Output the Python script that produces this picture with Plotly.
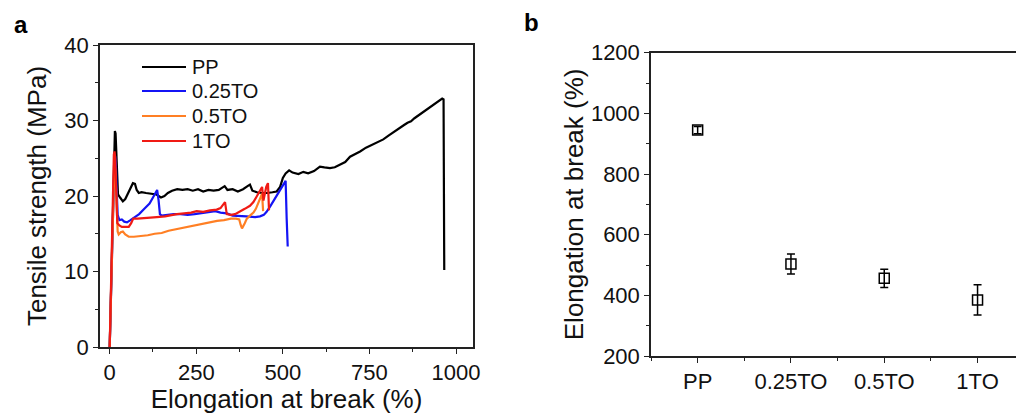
import plotly.graph_objects as go

# ---- Panel a: tensile stress-strain curves ----
pp_x = [0, 4, 8, 11, 13, 15, 17, 19, 21, 24, 30, 38, 45, 52, 60, 67, 73, 78, 84, 92,
        105, 120, 135, 148, 158, 168, 180, 195, 210, 225, 240, 255, 270, 285, 300, 315,
        325, 332, 340, 355, 370, 385, 398, 405, 412, 425, 440, 455, 470, 482, 492, 500,
        508, 518, 528, 545, 559, 573, 590, 607, 620, 636, 650, 665, 680, 694, 708, 723,
        740, 760, 775, 790, 805, 820, 835, 850, 860, 870, 880, 895, 910, 925, 940, 952,
        960, 964, 965, 966]
pp_y = [0, 8, 17, 24, 27.5, 28.6, 28.3, 26, 22, 20.2, 19.8, 19.3, 19.6, 20.3, 21.0, 21.7, 21.6, 20.8, 20.4, 20.5,
        20.4, 20.3, 20.2, 19.8, 20.0, 20.4, 20.7, 20.9, 20.8, 20.9, 20.7, 20.9, 20.6, 20.8, 20.7, 20.8,
        21.1, 21.3, 20.8, 20.9, 20.6, 20.9, 21.3, 21.5, 20.7, 20.5, 20.4, 20.4, 20.5, 20.6, 21.2, 22.4,
        23.0, 23.4, 23.1, 22.9, 23.2, 23.0, 23.3, 23.9, 23.8, 23.7, 23.8, 24.1, 24.5, 25.2, 25.5, 25.9,
        26.4, 26.8, 27.1, 27.5, 28.0, 28.5, 29.0, 29.4, 29.7, 29.9, 30.3, 30.8, 31.3, 31.8, 32.2, 32.6,
        32.9, 32.8, 20.0, 10.2]

to025_x = [0, 4, 8, 11, 14, 16, 18, 20, 23, 28, 35, 42, 50, 60, 72, 85, 100, 115, 125, 133,
           137, 141, 145, 150, 165, 185, 205, 225, 245, 265, 285, 305, 320, 338, 355, 375,
           395, 420, 434, 445, 453, 463, 475, 487, 497, 503, 508, 511, 514]
to025_y = [0, 8, 17, 23, 25.5, 25.2, 24, 21, 17.5, 16.8, 16.9, 16.6, 16.5, 16.8, 17.2, 17.6, 18.3, 19.0, 19.8, 20.5,
           20.8, 19.5, 17.6, 17.4, 17.5, 17.6, 17.6, 17.5, 17.6, 17.7, 17.9, 18.0, 17.8, 17.7, 17.4, 17.4,
           17.3, 17.2, 17.3, 17.5, 17.9, 18.6, 19.5, 20.4, 21.2, 21.7, 22.0, 17.0, 13.3]

to05_x = [0, 4, 8, 11, 13, 15, 17, 19, 21, 23, 26, 32, 38, 45, 55, 70, 90, 110, 130, 150,
          170, 190, 210, 230, 250, 270, 290, 310, 330, 350, 365, 374, 378, 382, 390, 396,
          405, 415, 422, 429, 434, 438, 440, 443]
to05_y = [0, 8, 16, 21.5, 23.5, 24.0, 23, 20, 17, 15.3, 14.9, 15.2, 15.3, 14.9, 14.6, 14.6, 14.7, 14.8, 15.0, 15.1,
          15.4, 15.6, 15.8, 15.9, 16.1, 16.3, 16.5, 16.7, 16.8, 17.0, 17.0, 16.9, 16.2, 15.7, 16.4, 17.0,
          17.4, 17.8, 18.3, 19.0, 19.5, 19.9, 20.3, 18.0]

to1_x = [0, 4, 7, 10, 12, 14, 16, 18, 20, 22, 28, 35, 45, 55, 62, 68, 80, 100, 120, 136,
         160, 180, 194, 215, 235, 251, 270, 290, 309, 320, 328, 333, 338, 350, 362, 376,
         390, 405, 415, 424, 432, 440, 444, 448, 452, 457, 460]
to1_y = [0, 9, 17, 23, 25.5, 25.9, 25.0, 22, 18.5, 16.4, 16.1, 15.9, 15.9, 15.9, 16.4, 17.0, 17.0, 17.1, 17.2, 17.2,
         17.3, 17.5, 17.6, 17.7, 17.8, 18.0, 17.9, 18.1, 18.2, 18.4, 18.9, 19.2, 17.6, 17.5, 17.6, 18.0,
         18.3, 18.7, 19.2, 19.9, 20.6, 21.2, 19.4, 20.3, 21.2, 21.7, 18.1]

curve_names = ["PP", "0.25TO", "0.5TO", "1TO"]
curve_colors = ["#000000", "#1414F5", "#FF7F24", "#F01A14"]
curve_x = [pp_x, to025_x, to05_x, to1_x]
curve_y = [pp_y, to025_y, to05_y, to1_y]

strain_ticks = [0, 250, 500, 750, 1000]
stress_ticks = [0, 10, 20, 30, 40]

# ---- Panel b: elongation at break ----
samples = ["PP", "0.25TO", "0.5TO", "1TO"]
sample_pos = [1, 2, 3, 4]
elong_mean = [945, 503, 456, 385]
elong_err = [12, 33, 30, 50]
elong_ticks = [200, 400, 600, 800, 1000, 1200]

FONT = "Arial, Liberation Sans, sans-serif"
W, H = 1016, 414

fig = go.Figure()

for name, color, xs, ys in zip(curve_names, curve_colors, curve_x, curve_y):
    fig.add_trace(go.Scatter(
        x=xs, y=ys, mode="lines", name=name, showlegend=False,
        line=dict(color=color, width=2.2),
        xaxis="x", yaxis="y",
    ))

fig.add_trace(go.Scatter(
    x=sample_pos, y=elong_mean, mode="markers", showlegend=False,
    marker=dict(symbol="square-open", size=10, color="#000000",
                line=dict(color="#000000", width=1.5)),
    error_y=dict(type="data", array=elong_err, visible=True,
                 color="#000000", thickness=1.5, width=4),
    xaxis="x2", yaxis="y2",
))

axis_common = dict(
    automargin=False,
    showline=True, linecolor="#222222", linewidth=1.5,
    showgrid=False, zeroline=False,
    ticks="outside", ticklen=5, tickwidth=1.2, tickcolor="#222222",
    tickfont=dict(family=FONT, size=22, color="#111111"),
)

# plot-area pixel boxes
a_left, a_right, a_top, a_bot = 100, 473, 45, 347
b_left, b_top, b_bot = 651, 52.7, 356

# legend box of panel a (line segment + label per curve)
leg_x0, leg_x1, leg_text_x = 142, 186, 190
leg_rows = [67, 91, 116, 141]
shapes = []
annotations = []
for name, color, row in zip(curve_names, curve_colors, leg_rows):
    shapes.append(dict(type="line", xref="paper", yref="paper",
                       x0=leg_x0 / W, x1=leg_x1 / W, y0=1 - row / H, y1=1 - row / H,
                       line=dict(color=color, width=2)))
    annotations.append(dict(text=name, x=leg_text_x / W, y=1 - row / H,
                            xref="paper", yref="paper", xanchor="left", yanchor="middle",
                            showarrow=False,
                            font=dict(family=FONT, size=20, color="#111111")))

annotations += [
    dict(text="<b>a</b>", x=20.5 / W, y=1 - 24 / H, xref="paper", yref="paper",
         xanchor="center", yanchor="middle",
         showarrow=False, font=dict(family=FONT, size=24, color="#000000")),
    dict(text="<b>b</b>", x=531.5 / W, y=1 - 22 / H, xref="paper", yref="paper",
         xanchor="center", yanchor="middle",
         showarrow=False, font=dict(family=FONT, size=24, color="#000000")),
]

fig.update_layout(
    width=W, height=H,
    margin=dict(l=0, r=0, t=0, b=0),
    paper_bgcolor="white", plot_bgcolor="white",
    font=dict(family=FONT, color="#111111"),
    showlegend=False,
    xaxis=dict(
        axis_common, domain=[a_left / W, a_right / W], anchor="y",
        range=[-28, 1049], tickvals=strain_ticks, mirror=True,
        minor=dict(dtick=125, tick0=0, ticks="outside", ticklen=3, tickcolor="#222222"),
        title=dict(text="Elongation at break (%)", font=dict(family=FONT, size=26), standoff=10),
    ),
    yaxis=dict(
        axis_common, domain=[1 - a_bot / H, 1 - a_top / H], anchor="x",
        range=[0, 40], tickvals=stress_ticks, mirror=True,
        minor=dict(dtick=5, tick0=0, ticks="outside", ticklen=3, tickcolor="#222222"),
        title=dict(text="Tensile strength (MPa)", font=dict(family=FONT, size=26), standoff=10),
    ),
    xaxis2=dict(
        axis_common, domain=[b_left / W, 1.0], anchor="y2",
        range=[0.5, 0.5 + (W - b_left) / 93.3], tickvals=sample_pos, ticktext=samples,
        mirror=True,
        minor=dict(dtick=1, tick0=0.5, ticks="outside", ticklen=3, tickcolor="#222222"),
    ),
    yaxis2=dict(
        axis_common, domain=[1 - b_bot / H, 1 - b_top / H], anchor="x2",
        range=[200, 1200], tickvals=elong_ticks,
        minor=dict(dtick=100, tick0=0, ticks="outside", ticklen=3, tickcolor="#222222"),
        title=dict(text="Elongation at break (%)", font=dict(family=FONT, size=26), standoff=0),
    ),
    shapes=shapes,
    annotations=annotations,
)

fig.write_html("out.html")
